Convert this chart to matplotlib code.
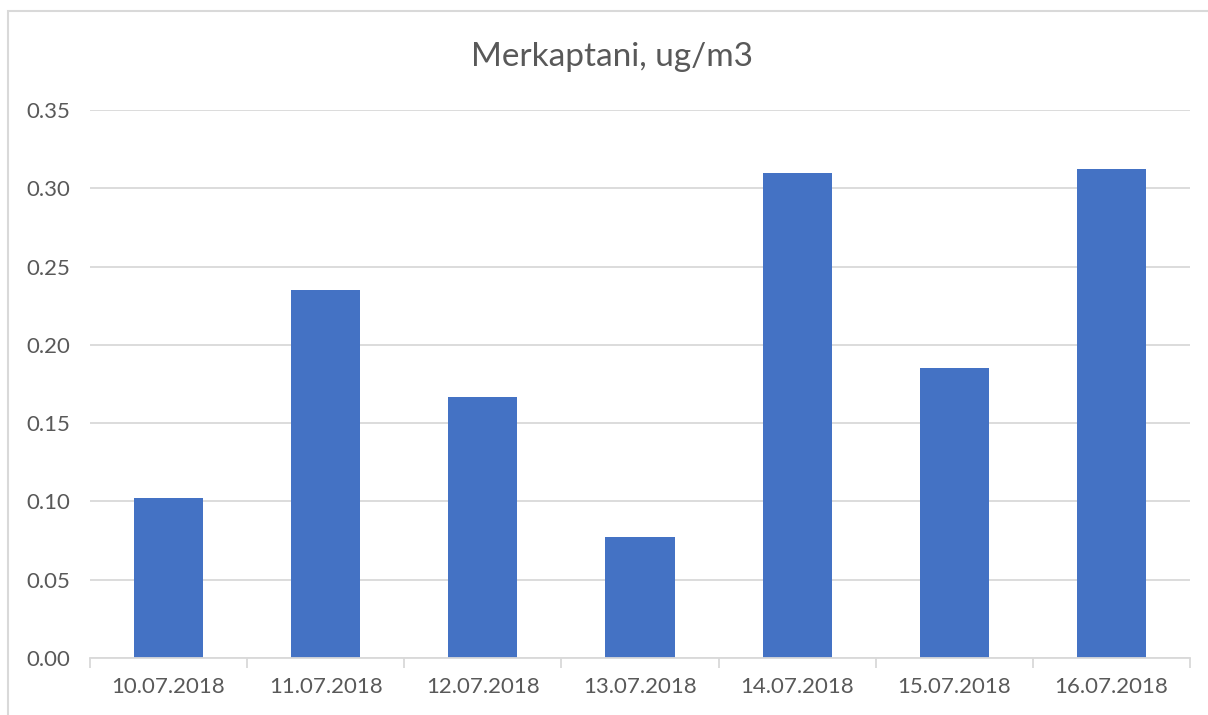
import matplotlib
matplotlib.use("Agg")
import matplotlib.pyplot as plt
from matplotlib.patches import Rectangle

categories = ["10.07.2018", "11.07.2018", "12.07.2018", "13.07.2018",
              "14.07.2018", "15.07.2018", "16.07.2018"]
values = [0.102, 0.235, 0.167, 0.077, 0.310, 0.185, 0.312]
yticks = [0.00, 0.05, 0.10, 0.15, 0.20, 0.25, 0.30, 0.35]
title = "Merkaptani, ug/m3"

plt.rcParams['font.family'] = ['Lato', 'DejaVu Sans']
W, H = 1208, 715
fig = plt.figure(figsize=(W/100, H/100), dpi=100)
fig.patch.set_facecolor("white")

# chart border
fig.add_artist(Rectangle((8/W, -0.05), 1.2, (H-11)/H + 0.05, transform=fig.transFigure,
                         fill=False, edgecolor="#D9D9D9", linewidth=1.5))

ax = fig.add_axes([90/W, (H-658)/H, 1100/W, 548/H])
x = list(range(len(categories)))
ax.bar(x, values, width=0.44, color="#4472C4", zorder=2)
ax.set_xlim(-0.5, len(categories)-0.5)
ax.set_ylim(0, 0.35)
ax.set_yticks(yticks)
ax.set_yticklabels([f"{v:.2f}" for v in yticks])
ax.yaxis.grid(True, color="#D9D9D9", linewidth=1.3, zorder=0)
ax.set_axisbelow(True)
for s in ["top", "right", "left"]:
    ax.spines[s].set_visible(False)
ax.spines["bottom"].set_color("#D9D9D9")
ax.spines["bottom"].set_linewidth(1.3)
ax.spines["bottom"].set_zorder(3)
ax.tick_params(axis="y", length=0, pad=14, labelsize=16, labelcolor="#595959")
ax.set_xticks(x)
ax.set_xticklabels(categories)
ax.tick_params(axis="x", length=0, pad=14, labelsize=16, labelcolor="#595959")
ax.set_xticks([i - 0.5 for i in range(len(categories)+1)], minor=True)
ax.tick_params(axis="x", which="minor", length=7, width=1.3, color="#D9D9D9")
fig.text(612/W, (H-57)/H, title, fontsize=24, color="#595959", ha="center", va="center")

fig.savefig("out.png", dpi=100)
